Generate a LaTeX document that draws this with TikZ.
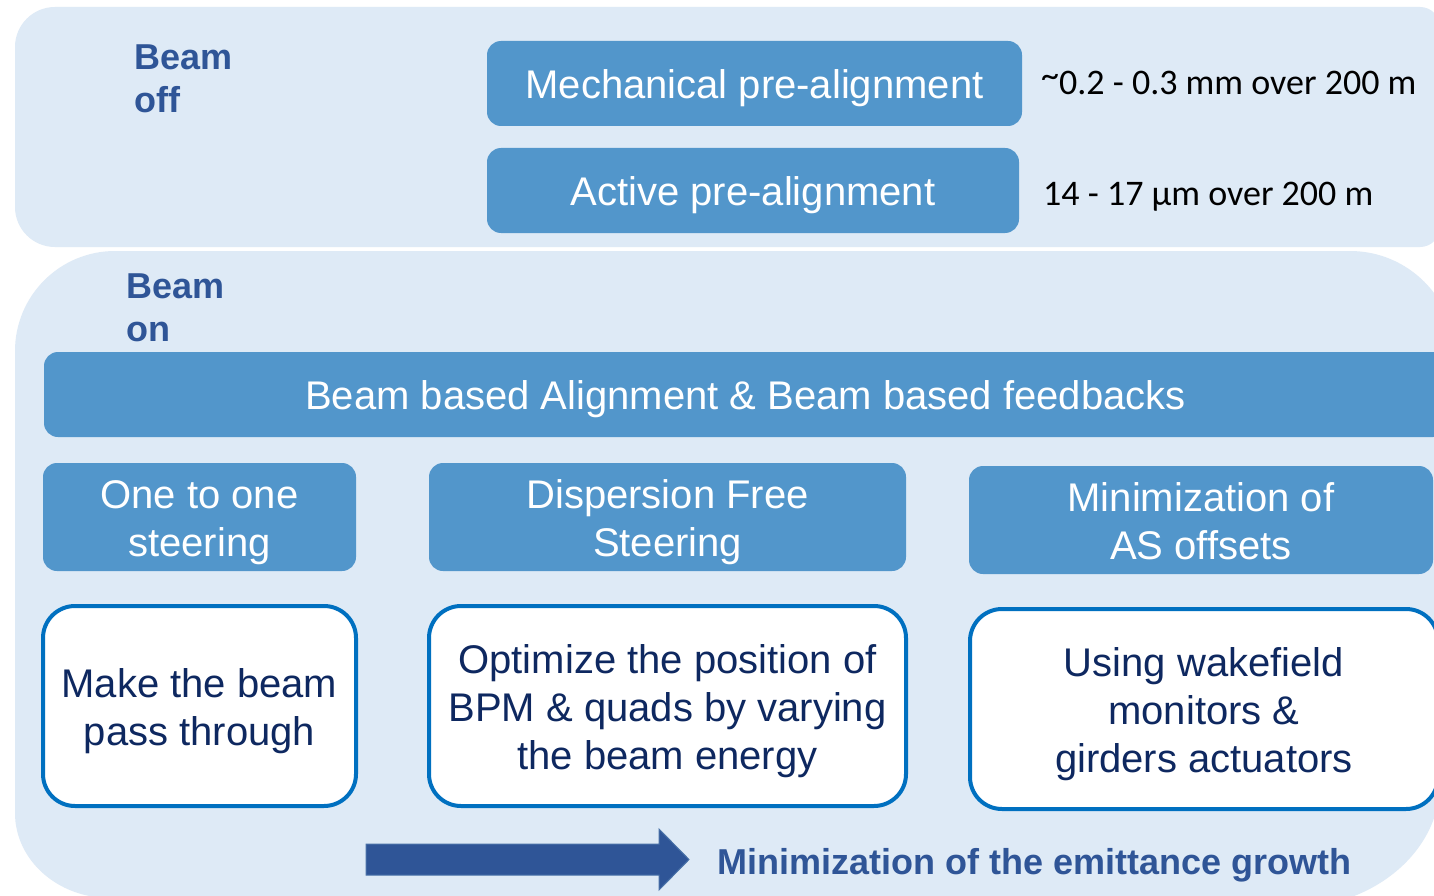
\documentclass[tikz,border=0pt]{standalone}
\usepackage{fontspec}
\setmainfont{Liberation Sans}
\newfontfamily\calibfont{Carlito}
\definecolor{panelblue}{HTML}{DEEAF6}
\definecolor{boxblue}{HTML}{5296CB}
\definecolor{labelblue}{HTML}{2F5597}
\definecolor{navytext}{HTML}{0E2860}
\definecolor{outlineblue}{HTML}{0070C0}
\definecolor{arrowedge}{HTML}{4A72A8}
% fixed first-line height and last-line depth, so every box centres its lines alike
\newcommand\boxtopstrut{\rule{0pt}{38.6pt}}
\newcommand\boxbotstrut{\rule[-8.4pt]{0pt}{8.4pt}}
\begin{document}
\begin{tikzpicture}[x=1pt,y=-1pt,
  panel/.style={fill=panelblue},
  boxtext/.style={font=\fontsize{40}{48}\selectfont, align=center, inner sep=0pt},
  bluebox/.style={boxtext, rectangle, rounded corners=14pt, fill=boxblue, text=white},
  whitebox/.style={boxtext, rectangle, rounded corners=32pt, draw=outlineblue, line width=4pt,
    fill=white, text=navytext},
  phase/.style={anchor=base west, inner sep=0pt, text=labelblue,
    font=\bfseries\fontsize{36}{43}\selectfont},
  figure/.style={anchor=base west, inner sep=0pt, text=black,
    font=\calibfont\fontsize{36}{43}\selectfont}]

\useasboundingbox (0,0) rectangle (1434,896);
\clip (0,0) rectangle (1434,896);
\fill[white] (0,0) rectangle (1434,896);

% beam-off panel
\fill[panel] (15,47) arc[start angle=180,end angle=270,radius=40]
  -- (1420,7) arc[start angle=270,end angle=360,radius=20]
  -- (1440,227) arc[start angle=0,end angle=90,radius=20]
  -- (55,247) arc[start angle=90,end angle=180,radius=40] -- cycle;

% beam-on panel
\fill[panel] (15,351) arc[start angle=180,end angle=270,radius=100]
  -- (1350,251) arc[start angle=270,end angle=360,radius=105]
  -- (1440,783) arc[start angle=0,end angle=90,x radius=150,y radius=125]
  -- (110,898) arc[start angle=90,end angle=180,x radius=95,y radius=85] -- cycle;

% phase labels
\node[phase] (offlabel) at (134,70) {\begin{tabular}[t]{@{}l@{}}Beam\\off\end{tabular}};
\node[phase] (onlabel) at (126,298) {\begin{tabular}[t]{@{}l@{}}Beam\\on\end{tabular}};

% pre-alignment steps
\node[bluebox, minimum width=535pt, minimum height=85pt] (mech) at (754.5,83.5) {\boxtopstrut Mechanical pre-alignment\boxbotstrut};
\node[bluebox, minimum width=532pt, minimum height=85pt] (active) at (753,190.5) {\boxtopstrut Active pre-alignment\boxbotstrut};
\node[figure] (mechval) at (1041,95) {\raisebox{0.22em}{\textasciitilde}0.2 - 0.3 mm over 200 m};
\node[figure] (activeval) at (1043,205.5) {14 - 17 µm over 200 m};

% beam based methods
\node[bluebox, minimum width=1403pt, minimum height=85pt] (bba) at (745.5,394.5) {\boxtopstrut Beam based Alignment \& Beam based feedbacks\boxbotstrut};
\node[bluebox, minimum width=313pt, minimum height=108pt] (oto) at (199.5,517) {\boxtopstrut One to one\\steering\boxbotstrut};
\node[bluebox, minimum width=477pt, minimum height=108pt] (dfs) at (667.5,517) {\boxtopstrut Dispersion Free\\Steering\boxbotstrut};
\node[bluebox, minimum width=464pt, minimum height=108pt] (wfs) at (1201,520) {\boxtopstrut Minimization of\\AS offsets\boxbotstrut};

\node[whitebox, minimum width=313pt, minimum height=200pt] (otodesc) at (199.5,706) {\boxtopstrut Make the beam\\pass through\boxbotstrut};
\node[whitebox, minimum width=477pt, minimum height=200pt] (dfsdesc) at (667.5,706) {\boxtopstrut Optimize the position of\\BPM \& quads by varying\\the beam energy\boxbotstrut};
\node[whitebox, minimum width=468pt, minimum height=200pt] (wfsdesc) at (1204,709) {\boxtopstrut Using wakefield\\monitors \&\\girders actuators\boxbotstrut};

% goal arrow
\fill[labelblue, draw=arrowedge, line width=1pt] (366,844) -- (659,844) -- (659,829)
  -- (689,859.5) -- (659,890) -- (659,875) -- (366,875) -- cycle;
\node[anchor=base west, inner sep=0pt, text=labelblue,
  font=\bfseries\fontsize{36}{43}\selectfont] (goal) at (717,874) {Minimization of the emittance growth};
\end{tikzpicture}
\end{document}
